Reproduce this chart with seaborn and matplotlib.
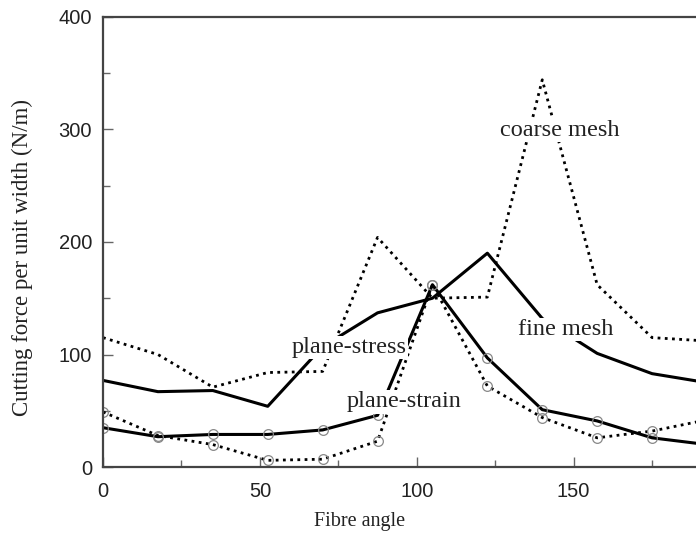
import seaborn as sns
import pandas as pd
import numpy as np
import matplotlib.pyplot as plt
from matplotlib.ticker import MultipleLocator

# values (last point lies just past the right edge)
angles = [0, 17.5, 35, 52.5, 70, 87.5, 105, 122.5, 140, 157.5, 175, 192.5]
coarse_stress = [115, 100, 71, 84, 85, 204, 150, 151, 344, 162, 115, 112]
fine_stress = [77, 67, 68, 54, 107, 137, 150, 190, 132, 101, 83, 75]
fine_strain = [35, 27, 29, 29, 33, 46, 162, 97, 51, 41, 26, 20]
coarse_strain = [49, 28, 20, 6, 7, 23, 162, 72, 44, 26, 32, 42]

labels = ["coarse mesh", "plane-stress", "fine mesh", "plane-strain"]
label_x = [145.5, 78.5, 147.5, 96]
label_y = [299, 106, 122, 58]

sns.set_style("ticks")
plt.rcParams['font.family'] = ['Liberation Sans', 'DejaVu Sans']

fig = plt.figure(figsize=(6.96, 5.40), dpi=100)
ax = fig.add_axes([0.148, 0.135, 0.852, 0.834])

dotted = (0, (1, 1.6))
sns.lineplot(x=angles, y=coarse_stress, ax=ax, sort=False, estimator=None,
             color='black', lw=2.0, linestyle=dotted)
sns.lineplot(x=angles, y=fine_stress, ax=ax, sort=False, estimator=None,
             color='black', lw=2.2)
sns.lineplot(x=angles, y=coarse_strain, ax=ax, sort=False, estimator=None,
             color='black', lw=2.0, linestyle=dotted, marker='o', markersize=7,
             markerfacecolor='none', markeredgecolor='#888888', markeredgewidth=0.9)
sns.lineplot(x=angles, y=fine_strain, ax=ax, sort=False, estimator=None,
             color='black', lw=2.2, marker='o', markersize=7,
             markerfacecolor='none', markeredgecolor='#888888', markeredgewidth=0.9)

for s, x, y in zip(labels, label_x, label_y):
    ax.text(x, y, s, ha='center', va='center', fontsize=17.5, family='Liberation Serif',
            color='#222222', zorder=5,
            bbox=dict(fc='white', ec='none', pad=0.8))

ax.set_xlim(0, 189)
ax.set_ylim(0, 400)
ax.xaxis.set_major_locator(MultipleLocator(50))
ax.xaxis.set_minor_locator(MultipleLocator(25))
ax.yaxis.set_major_locator(MultipleLocator(100))
ax.yaxis.set_minor_locator(MultipleLocator(50))
ax.tick_params(which='both', direction='in', color='#666666', labelsize=14.5,
               labelcolor='#222222')
ax.tick_params(which='major', length=7, width=1)
ax.tick_params(which='minor', length=5, width=1)
ax.tick_params(axis='x', pad=11)
ax.tick_params(axis='y', pad=8)

for side in ['left', 'bottom', 'top']:
    ax.spines[side].set_color('#444444')
    ax.spines[side].set_linewidth(1.6)
ax.spines['right'].set_visible(False)

ax.set_xlabel("Fibre angle", fontsize=14.5, family='Liberation Serif', color='#222222')
ax.set_ylabel("Cutting force per unit width (N/m)", fontsize=16.5,
              family='Liberation Serif', color='#222222')
ax.xaxis.set_label_coords(0.433, -0.1)
ax.yaxis.set_label_coords(-0.118, 0.466)

plt.savefig("out.png", dpi=100)
